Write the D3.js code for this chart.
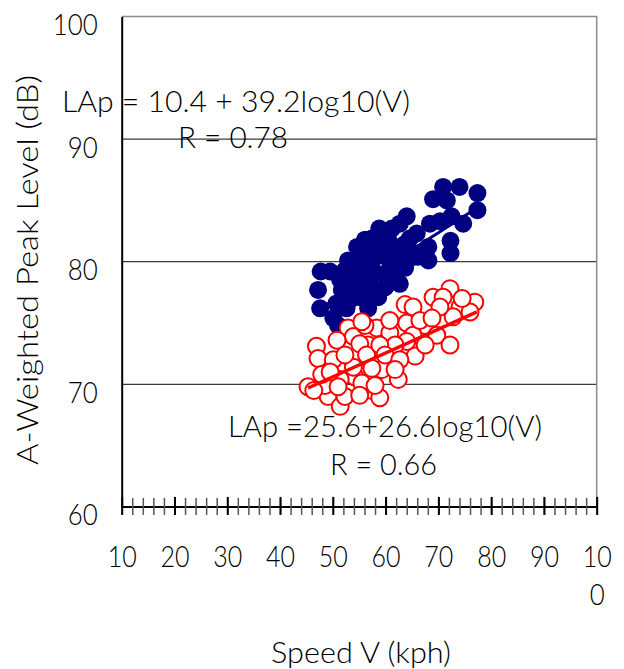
<!DOCTYPE html>
<html lang="en">
<head>
<meta charset="UTF-8">
<script src="https://cdn.jsdelivr.net/npm/d3@7"></script>
<title>Peak level vs speed</title>
<style>
  body { margin: 0; background: #fff; }
  text { font-family: Lato, "Liberation Sans", Arial, sans-serif; font-weight: 300; fill: #000; }
</style>
</head>
<body>
<svg id="chart"></svg>
<script>
const width = 624;
const height = 669;

// speed (kph) and A-weighted peak level (dB), upper group (filled navy)
const blueSpeed = [70.9, 74.0, 69.0, 71.6, 77.4, 77.4, 72.5, 74.7, 70.3, 68.4, 72.3, 72.3, 64.0, 65.9, 68.1, 68.1, 66.1,
  58.8, 62.7, 54.6, 52.9, 56.1, 60.5, 58.3, 65.2, 47.7, 49.5, 47.2, 53.6, 56.4, 60.2, 62.7, 47.6, 50.7, 53.3, 55.8,
  56.7, 50.1, 52.6, 55.1, 57.4, 59.7, 61.8, 63.7, 55.5, 58.0, 60.8, 54.6, 57.4, 59.9, 58.6, 61.8, 63.5, 57.0, 59.3,
  61.2, 64.6, 55.1, 51.7, 51.0, 52.3, 61.8, 64.6, 51.4, 57.4];
const blueLevel = [86.1, 86.1, 85.1, 85.0, 85.6, 84.2, 83.7, 83.1, 83.3, 83.1, 81.7, 80.7, 83.7, 82.3, 81.2, 80.1, 80.4,
  82.7, 83.1, 81.2, 80.1, 81.8, 81.8, 81.5, 80.7, 79.2, 79.2, 77.7, 78.5, 78.8, 78.8, 78.2, 76.2, 76.6, 76.9, 77.4,
  76.2, 75.4, 76.2, 80.3, 80.0, 80.5, 80.0, 79.5, 79.5, 79.1, 79.5, 78.1, 77.9, 77.9, 77.1, 81.0, 81.4, 81.0, 82.4,
  82.7, 81.9, 77.1, 77.7, 74.8, 79.3, 79.2, 80.3, 78.5, 81.9];

// lower group (open red circles)
const redSpeed = [45.3, 46.9, 47.2, 50.1, 52.9, 53.9, 49.1, 51.4, 52.3, 54.2, 56.7, 57.4, 58.3, 60.8, 61.2, 59.3, 62.4,
  64.0, 63.7, 55.1, 56.4, 53.9, 58.9, 72.2, 69.0, 70.9, 76.9, 74.1, 72.8, 70.3, 65.2, 76.0, 67.5, 69.7, 72.2, 65.2,
  65.6, 64.0, 55.5, 51.4, 48.5, 60.8, 66.5, 61.8, 58.9, 56.1, 55.1, 59.9, 62.7, 50.8, 52.3, 57.4, 47.9, 55.5, 46.4,
  51.0, 61.8, 67.5, 68.8, 74.5, 58.0, 49.5];
const redLevel = [69.8, 73.1, 72.1, 72.0, 74.6, 73.9, 69.0, 68.2, 69.0, 70.6, 73.2, 69.5, 74.6, 74.2, 72.0, 71.2, 70.4,
  75.0, 76.5, 73.3, 72.4, 71.4, 68.9, 77.8, 77.1, 77.1, 76.7, 76.3, 75.5, 76.3, 76.3, 75.9, 74.8, 74.0, 73.2, 74.0,
  72.3, 73.5, 70.1, 70.4, 69.9, 75.2, 75.2, 73.2, 73.2, 74.8, 69.1, 72.4, 72.0, 73.6, 72.4, 71.3, 70.8, 75.1, 69.5,
  69.8, 71.2, 73.2, 75.4, 77.0, 69.9, 71.0];

// fitted lines, end points [speed, level]
const blueFit = [[47.0, 76.0], [77.0, 84.3]];
const redFit = [[45.3, 69.7], [77.3, 75.9]];

const yTicks = [60, 70, 80, 90, 100];
const xMajor = [10, 20, 30, 40, 50, 60, 70, 80, 90, 100];
const xMinor = d3.range(10, 101, 2);

const svg = d3.select("#chart").attr("width", width).attr("height", height);

const x = d3.scaleLinear().domain([10, 100]).range([121.7, 596.7]);
const y = d3.scaleLinear().domain([60, 100]).range([506.9, 16.5]);

// gridlines
svg.append("g").selectAll("line").data([70, 80, 90]).join("line")
  .attr("x1", x(10)).attr("x2", x(100))
  .attr("y1", d => y(d)).attr("y2", d => y(d))
  .attr("stroke", "#3a3a3a").attr("stroke-width", 1.3);

// top and right frame
svg.append("path")
  .attr("d", `M${x(10)},${y(100)}H${x(100)}V${y(60)}`)
  .attr("fill", "none").attr("stroke", "#8a8a8a").attr("stroke-width", 1.5);

// y axis
const yAxis = svg.append("g").attr("transform", `translate(${x(10)},0)`)
  .call(d3.axisLeft(y).tickValues(yTicks).tickSize(0).tickPadding(24));
yAxis.select(".domain").attr("stroke", "#000").attr("stroke-width", 2);
yAxis.selectAll("text")
  .attr("font-size", 30).attr("dy", 18).attr("dx", 0)
  .attr("textLength", d => String(d).length * 15).attr("lengthAdjust", "spacingAndGlyphs");

// x axis, minor ticks crossing the line
const xMin = svg.append("g").attr("transform", `translate(0,${y(60)})`)
  .call(d3.axisBottom(x).tickValues(xMinor).tickFormat(""));
xMin.select(".domain").attr("stroke", "#000").attr("stroke-width", 2).attr("d", `M${x(10)},0H${x(100)}`);
xMin.selectAll(".tick line").attr("y1", -9).attr("y2", 8).attr("stroke", "#555").attr("stroke-width", 1.5);

// x axis, major ticks and labels
const xMaj = svg.append("g").attr("transform", `translate(0,${y(60)})`)
  .call(d3.axisBottom(x).tickValues(xMajor).tickSize(0).tickPadding(0));
xMaj.select(".domain").remove();
xMaj.selectAll(".tick line").attr("y1", -10).attr("y2", 8).attr("stroke", "#000").attr("stroke-width", 2);
xMaj.selectAll(".tick text").each(function(d) {
  const t = d3.select(this).text(null).attr("font-size", 30).attr("y", 0).attr("dy", null);
  const s = String(d);
  if (s.length > 2) {
    t.append("tspan").attr("x", 0).attr("y", 60).text(s.slice(0, 2))
      .attr("textLength", 29).attr("lengthAdjust", "spacingAndGlyphs");
    t.append("tspan").attr("x", 0).attr("y", 98).text(s.slice(2))
      .attr("textLength", 15).attr("lengthAdjust", "spacingAndGlyphs");
  } else {
    t.append("tspan").attr("x", 0).attr("y", 60).text(s)
      .attr("textLength", 29).attr("lengthAdjust", "spacingAndGlyphs");
  }
});

// blue points + fit
const blue = blueSpeed.map((v, i) => [v, blueLevel[i]]);
const red = redSpeed.map((v, i) => [v, redLevel[i]]);
const line = d3.line().x(d => x(d[0])).y(d => y(d[1]));

svg.append("g").selectAll("circle").data(blue).join("circle")
  .attr("cx", d => x(d[0])).attr("cy", d => y(d[1])).attr("r", 9)
  .attr("fill", "#000080");
svg.append("path").attr("d", line(blueFit))
  .attr("stroke", "#000080").attr("stroke-width", 3).attr("fill", "none");

svg.append("g").selectAll("circle").data(red).join("circle")
  .attr("cx", d => x(d[0])).attr("cy", d => y(d[1])).attr("r", 8.5)
  .attr("fill", "#fff").attr("stroke", "#ff0000").attr("stroke-width", 2);
svg.append("path").attr("d", line(redFit))
  .attr("stroke", "#ff0000").attr("stroke-width", 3.5).attr("fill", "none");

// annotations
const notes = [
  {t: "LAp = 10.4 + 39.2log10(V)", x: 62, y: 112, w: 348},
  {t: "R = 0.78", x: 178, y: 148, w: 110},
  {t: "LAp =25.6+26.6log10(V)", x: 228, y: 437, w: 314},
  {t: "R = 0.66", x: 330, y: 475, w: 107}
];
svg.append("g").selectAll("text").data(notes).join("text")
  .attr("x", d => d.x).attr("y", d => d.y).attr("font-size", 30)
  .attr("textLength", d => d.w).attr("lengthAdjust", "spacingAndGlyphs")
  .text(d => d.t);

// axis titles
svg.append("text").attr("x", 361).attr("y", 663).attr("text-anchor", "middle")
  .attr("font-size", 30).attr("textLength", 180).attr("lengthAdjust", "spacingAndGlyphs")
  .text("Speed V (kph)");
svg.append("text").attr("transform", "translate(38,270) rotate(-90)").attr("text-anchor", "middle")
  .attr("font-size", 30).attr("textLength", 390).attr("lengthAdjust", "spacingAndGlyphs")
  .text("A-Weighted Peak Level (dB)");
</script>
</body>
</html>
